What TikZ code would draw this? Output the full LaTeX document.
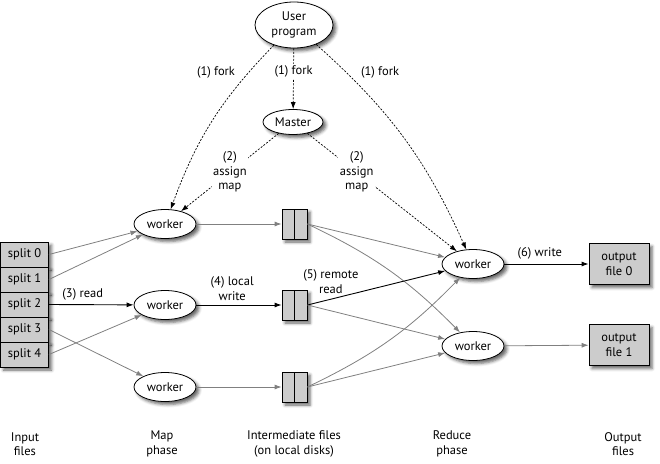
\documentclass[tikz,border=0pt]{standalone}
\usepackage{fontspec}
\setmainfont{PT Sans}
\usepackage{tikz}
\usetikzlibrary{arrows.meta,shapes.geometric,shadows.blur}

\begin{document}
\begin{tikzpicture}[x=1pt,y=-1pt,>={Latex[length=7pt,width=5pt]},
  font=\fontsize{12.5}{14.5}\selectfont,
  softshadow/.style={blur shadow={shadow xshift=3pt,shadow yshift=-3pt,shadow blur radius=3pt,shadow opacity=60}},
  proc/.style={ellipse,draw,line width=0.8pt,fill=white,inner sep=0pt,minimum width=62pt,minimum height=29pt,softshadow},
  splitbox/.style={rectangle,draw,line width=0.8pt,fill=gray!40,minimum width=48pt,minimum height=25pt,inner sep=0pt,softshadow},
  filebox/.style={rectangle,draw,line width=0.8pt,fill=gray!40,minimum width=25pt,minimum height=30pt,inner sep=0pt,softshadow,
    path picture={\draw[line width=0.8pt] (path picture bounding box.north) -- (path picture bounding box.south);}},
  outbox/.style={rectangle,draw,line width=0.8pt,fill=gray!40,minimum width=60pt,minimum height=41pt,inner sep=1pt,align=center,softshadow},
  ctrl/.style={->,line width=0.7pt,dash pattern=on 2pt off 1.5pt},
  data/.style={->,gray,line width=0.8pt},
  hot/.style={->,black,line width=0.9pt},
  tag/.style={fill=white,inner sep=1.5pt,align=center}]
\useasboundingbox (0,0) rectangle (660,463);

% master side
\node[proc,minimum width=78pt,minimum height=46pt,align=center] (user) at (294,25) {User\\program};
\node[proc,minimum width=60pt,minimum height=25pt] (master) at (293,122) {Master};

% map workers and intermediate files
\foreach \i/\y in {1/224,2/305,3/387} {
  \node[proc] (map\i) at (165,\y) {worker};
  \node[filebox] (tmp\i) at (294.5,\y) {};
}

% reduce workers and output files
\node[proc] (red1) at (473,264) {worker};
\node[proc] (red2) at (473,346) {worker};
\node[outbox] (out0) at (619,264) {output\\file 0};
\node[outbox] (out1) at (619,345) {output\\file 1};

% input splits
\foreach \i in {0,...,4}
  \node[splitbox] (split\i) at (24.5,{254.5+25*\i}) {split \i};

% control
\draw[ctrl] (user) to[bend right=12] (map1);
\draw[ctrl] (user) -- node[tag,pos=0.38] (fork2) {(1) fork} (master);
\draw[ctrl] (user) to[bend left=12] (red1);
\node (fork1) at (216,72) {(1) fork};
\node (fork3) at (380,72) {(1) fork};
\draw[ctrl] (master) -- node[tag,pos=0.5] (assign1) {(2)\\assign\\map} (map1);
\draw[ctrl] (master) -- node[tag,pos=0.33] (assign2) {(2)\\assign\\map} (red1);

% data
\draw[data] (split0.east) -- (map1);
\draw[data] (split1.east) -- (map1);
\draw[hot] (split2.east) -- node[pos=0.4,above=1pt] (read) {(3) read} (map2);
\draw[data] (split3.east) -- (map3);
\draw[data] (split4.east) -- (map2);

\draw[data] (map1) -- (tmp1);
\draw[hot] (map2) -- node[pos=0.42,above=1pt,align=center] (lwrite) {(4) local\\write} (tmp2);
\draw[data] (map3) -- (tmp3);

\draw[data] (tmp1.east) -- (red1);
\draw[data] (tmp1.east) to[bend left=10] (red2);
\draw[hot] (tmp2.east) -- node[pos=0.17,above=2pt,align=center] (rread) {(5) remote\\read} (red1);
\draw[data] (tmp2.east) -- (red2);
\draw[data] (tmp3.east) to[bend right=10] (red1);
\draw[data] (tmp3.east) -- (red2);

\draw[hot] (red1) -- node[pos=0.42,above=1pt] (write) {(6) write} (out0);
\draw[data] (red2) -- (out1);

% phase captions
\foreach \n/\x/\t in {input/25/Input\\files, map/162/Map\\phase, inter/294/Intermediate files\\(on local disks),
                      reduce/452/Reduce\\phase, output/623/Output\\files}
  \node[align=center] (\n) at (\x,444) {\t};
\end{tikzpicture}
\end{document}
